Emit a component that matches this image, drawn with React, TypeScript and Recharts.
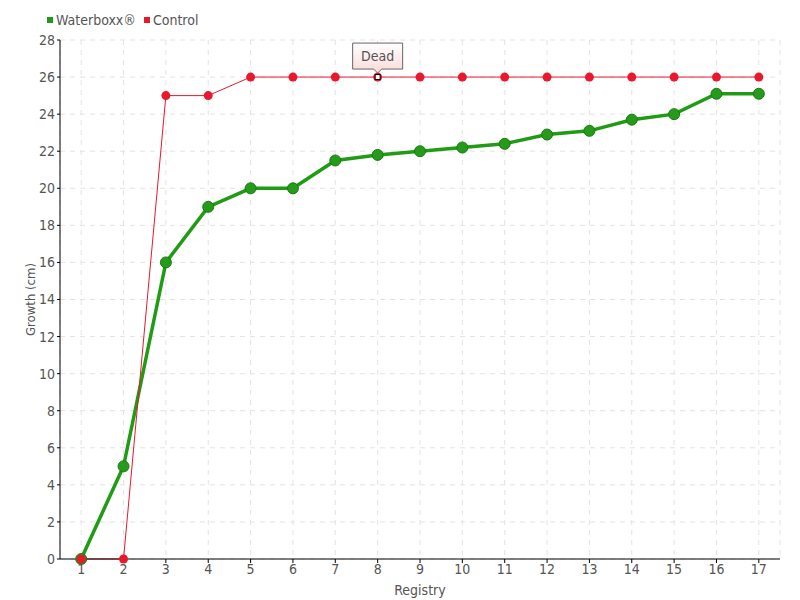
import React from 'react';
import { LineChart, Line, XAxis, YAxis, CartesianGrid, Legend } from 'recharts';

const categories = ['1','2','3','4','5','6','7','8','9','10','11','12','13','14','15','16','17'];
const waterboxx = [0, 5, 16, 19, 20, 20, 21.5, 21.8, 22, 22.2, 22.4, 22.9, 23.1, 23.7, 24, 25.1, 25.1];
const control = [0, 0, 25, 25, 26, 26, 26, 26, 26, 26, 26, 26, 26, 26, 26, 26, 26];
const yTicks = [0, 2, 4, 6, 8, 10, 12, 14, 16, 18, 20, 22, 24, 26, 28];
const annotationIndex = 7;
const annotationText = 'Dead';

const data = categories.map((c, i) => ({ registry: c, waterboxx: waterboxx[i], control: control[i] }));

const FONT = "'DejaVu Sans Condensed', 'DejaVu Sans', sans-serif";
const GREEN = '#1f9c14';
const RED = '#e8192c';
const TEXT = '#555';

const ControlDot = (props: any) => {
  const { cx, cy, index } = props;
  if (cx == null || cy == null) return null;
  if (index === annotationIndex) {
    const bw = 50, bh = 26;
    const bx = cx - bw / 2;
    const by = cy - 34;
    return (
      <g>
        <defs>
          <linearGradient id="deadGrad" x1="0" y1="0" x2="0" y2="1">
            <stop offset="0%" stopColor="#ffffff" />
            <stop offset="100%" stopColor="#fbd9d9" />
          </linearGradient>
        </defs>
        <circle cx={cx} cy={cy} r={4.5} fill={RED} />
        <path
          d={`M${bx},${by} H${bx + bw} V${by + bh} H${cx + 4} L${cx},${by + bh + 4} L${cx - 4},${by + bh} H${bx} Z`}
          fill="url(#deadGrad)"
          stroke="#666"
          strokeWidth={1}
        />
        <text x={cx} y={by + 18} textAnchor="middle" fontFamily={FONT} fontSize={14} fill={TEXT}>
          {annotationText}
        </text>
        <rect x={cx - 2.5} y={cy - 2.5} width={5} height={5} fill="#fff" stroke="#000" strokeWidth={1} />
      </g>
    );
  }
  return <circle key={index} cx={cx} cy={cy} r={4.5} fill={RED} />;
};

const LegendContent = () => (
  <div style={{ display: 'flex', gap: 8, fontFamily: FONT, fontSize: 14, color: TEXT, whiteSpace: 'nowrap' }}>
    {[
      { name: 'Waterboxx®', color: GREEN },
      { name: 'Control', color: RED },
    ].map((it) => (
      <span key={it.name} style={{ display: 'flex', alignItems: 'center' }}>
        <span style={{ display: 'inline-block', width: 6, height: 6, background: it.color, marginRight: 3 }} />
        {it.name}
      </span>
    ))}
  </div>
);

export default function App() {
  return (
    <div style={{ position: 'absolute', left: 0, top: 0, width: 800, height: 600, background: '#fff' }}>
      <LineChart width={800} height={600} data={data} margin={{ top: 40, right: 20, bottom: 0, left: 0 }}>
        <CartesianGrid stroke="#e3e3e3" strokeDasharray="5 5" />
        <XAxis
          dataKey="registry"
          scale="band"
          height={41}
          stroke="#000"
          tickSize={4}
          tick={{ fill: TEXT, fontSize: 14, fontFamily: FONT }}
          tickMargin={1}
          label={{ value: 'Registry', position: 'insideBottom', offset: 5, fill: TEXT, fontSize: 14, fontFamily: FONT }}
        />
        <YAxis
          width={60}
          domain={[0, 28]}
          ticks={yTicks}
          interval={0}
          stroke="#000"
          tickSize={3}
          tick={{ fill: TEXT, fontSize: 14, fontFamily: FONT }}
          tickMargin={2}
          label={{ value: 'Growth (cm)', angle: -90, position: 'insideLeft', offset: 30, fill: TEXT, fontSize: 13, fontFamily: FONT, style: { textAnchor: 'middle' } }}
        />
        <Legend
          layout="horizontal"
          verticalAlign="middle"
          align="center"
          content={<LegendContent />}
          wrapperStyle={{ top: 12, left: 47, width: 'auto', height: 'auto' }}
        />
        <Line
          type="linear"
          dataKey="waterboxx"
          name="Waterboxx®"
          stroke={GREEN}
          strokeWidth={3.5}
          dot={{ r: 5.5, fill: '#259a1b', stroke: '#1b7a12', strokeWidth: 1 }}
          activeDot={false}
          isAnimationActive={false}
        />
        <Line
          type="linear"
          dataKey="control"
          name="Control"
          stroke={RED}
          strokeWidth={1}
          dot={<ControlDot />}
          activeDot={false}
          isAnimationActive={false}
        />
      </LineChart>
    </div>
  );
}
